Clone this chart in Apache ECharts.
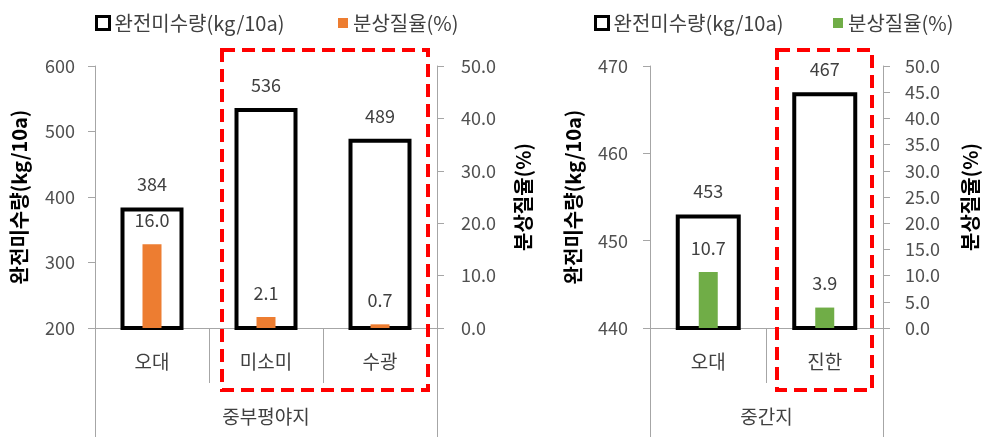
<!DOCTYPE html>
<html><head><meta charset="utf-8">
<script src="https://cdn.jsdelivr.net/npm/echarts@6/dist/echarts.min.js"></script>
<style>html,body{margin:0;padding:0;background:#fff}#c{width:984px;height:437px}</style>
</head><body><div id="c"></div>
<script>
const FONT = '"Noto Sans CJK KR", "Noto Sans", sans-serif';
const nameAmount = '완전미수량(kg/10a)';
const nameRate = '분상질율(%)';
const groupA = ['중부평야지'];
const catsA = ['오대', '미소미', '수광'];
const amountA = [384, 536, 489];
const rateA = [16.0, 2.1, 0.7];
const groupB = ['중간지'];
const catsB = ['오대', '진한'];
const amountB = [453, 467];
const rateB = [10.7, 3.9];
const leftTicksA = {min: 200, max: 600, interval: 100};
const rightTicksA = {min: 0, max: 50, interval: 10};
const leftTicksB = {min: 440, max: 470, interval: 10};
const rightTicksB = {min: 0, max: 50, interval: 5};

const AX = '#A6A6A6', LBL = '#505050', DL = '#404040';
const chart = echarts.init(document.getElementById('c'));

function catAxis(grid, data, show) {
  return {type: 'category', gridIndex: grid, data: data, position: 'bottom',
    show: show,
    axisLine: {show: true, lineStyle: {color: AX, width: 1}},
    axisTick: {show: true, length: 55, lineStyle: {color: AX}},
    axisLabel: {margin: 24, fontSize: 19, color: DL, fontFamily: FONT}};
}
function groupAxis(grid, data) {
  return {type: 'category', gridIndex: grid, data: data, position: 'bottom',
    axisLine: {show: false},
    axisTick: {show: true, length: 109, lineStyle: {color: AX}},
    axisLabel: {margin: 79, fontSize: 19, color: DL, fontFamily: FONT}};
}
function hiddenAxis(grid, data) {
  return {type: 'category', gridIndex: grid, data: data, show: false};
}
function valAxis(grid, t, pos, name, gap, dec, margin) {
  return {type: 'value', gridIndex: grid, position: pos, min: t.min, max: t.max, interval: t.interval,
    name: name, nameLocation: 'middle', nameRotate: 90, nameGap: gap,
    nameTextStyle: {fontSize: 20, fontWeight: 'bold', color: '#000', fontFamily: FONT},
    axisLine: {show: true, lineStyle: {color: AX}},
    axisTick: {show: true, length: 7, lineStyle: {color: AX}},
    splitLine: {show: false},
    axisLabel: {fontSize: 18, color: LBL, fontFamily: FONT, margin: margin,
      formatter: v => dec ? v.toFixed(1) : String(v)}};
}
function amountSeries(x, y, data, w) {
  return {type: 'bar', name: nameAmount, xAxisIndex: x, yAxisIndex: y, data: data, barWidth: w,
    itemStyle: {color: '#fff', borderColor: '#000', borderWidth: 4},
    label: {show: true, position: 'top', distance: 14, fontSize: 18, color: DL, fontFamily: FONT}};
}
function rateSeries(x, y, data, color) {
  return {type: 'bar', name: nameRate, xAxisIndex: x, yAxisIndex: y, data: data, barWidth: 19,
    itemStyle: {color: color},
    label: {show: true, position: 'top', distance: 15, fontSize: 18, color: DL, fontFamily: FONT,
      formatter: p => p.value.toFixed(1)}};
}
function legend(left, name, w, style) {
  return {left: left, top: 8, itemWidth: w, itemHeight: w, itemGap: 6, selectedMode: false,
    textStyle: {fontSize: 20, color: DL, fontFamily: FONT},
    data: [{name: name, icon: 'rect', itemStyle: style}]};
}

chart.setOption({
  animation: false,
  grid: [
    {left: 95, right: 984 - 437, top: 66, bottom: 437 - 328},
    {left: 650, right: 984 - 883, top: 66, bottom: 437 - 328}
  ],
  legend: [
    legend(90, nameAmount, 13, {color: '#fff', borderColor: '#000', borderWidth: 3}),
    legend(333, nameRate, 10, {color: '#ED7D31', borderWidth: 0}),
    legend(589, nameAmount, 13, {color: '#fff', borderColor: '#000', borderWidth: 3}),
    legend(828, nameRate, 10, {color: '#70AD47', borderWidth: 0})
  ],
  xAxis: [
    catAxis(0, catsA, true), groupAxis(0, groupA), hiddenAxis(0, catsA),
    catAxis(1, catsB, true), groupAxis(1, groupB), hiddenAxis(1, catsB)
  ],
  yAxis: [
    valAxis(0, leftTicksA, 'left', nameAmount, 66, false, 20),
    valAxis(0, rightTicksA, 'right', nameRate, 76, true, 24),
    valAxis(1, leftTicksB, 'left', nameAmount, 67, false, 22),
    valAxis(1, rightTicksB, 'right', nameRate, 77, true, 22)
  ],
  series: [
    amountSeries(0, 0, amountA, 63),
    rateSeries(2, 1, rateA, '#ED7D31'),
    amountSeries(3, 2, amountB, 65),
    rateSeries(5, 3, rateB, '#70AD47')
  ],
  graphic: [
    {type: 'rect', shape: {x: 222, y: 50, width: 206, height: 340}, z: 100,
      style: {fill: 'none', stroke: '#FF0000', lineWidth: 4, lineDash: [13, 7]}},
    {type: 'rect', shape: {x: 777, y: 50, width: 95, height: 340}, z: 100,
      style: {fill: 'none', stroke: '#FF0000', lineWidth: 4, lineDash: [13, 7]}}
  ]
});
</script></body></html>
